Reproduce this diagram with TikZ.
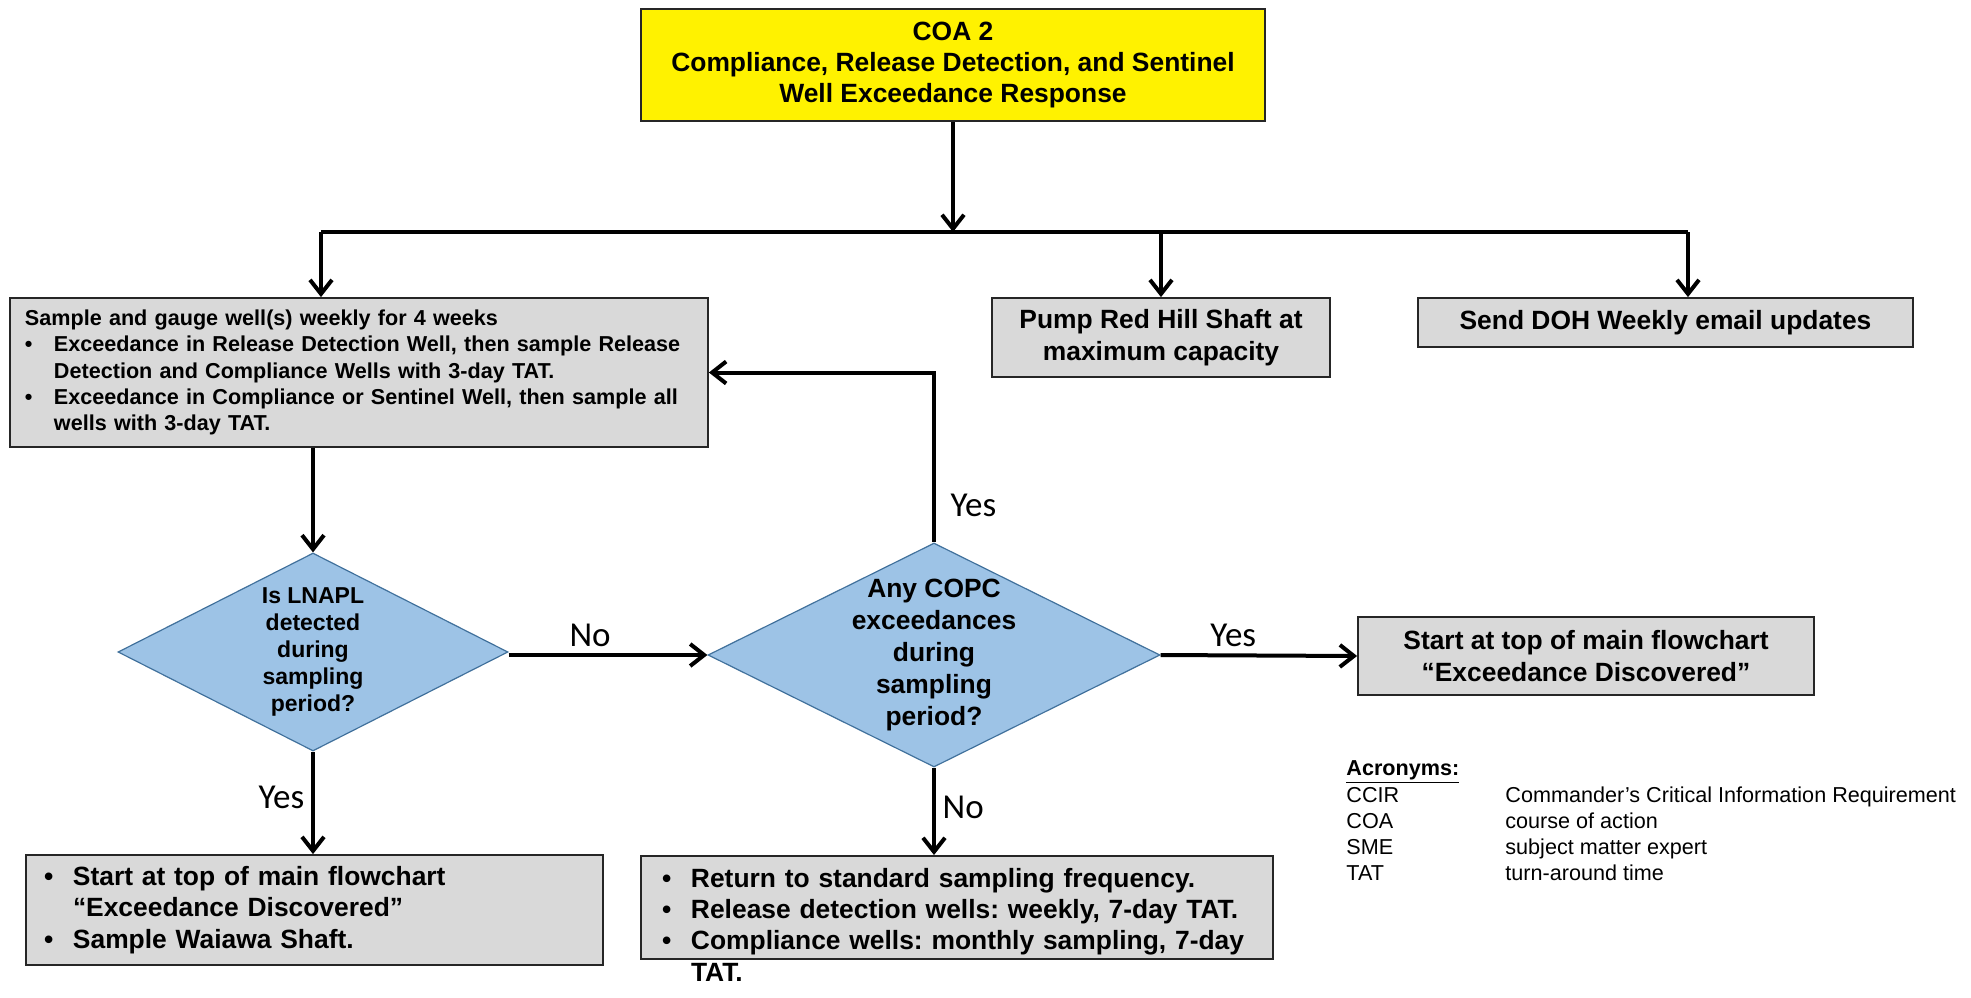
\documentclass[tikz,border=0pt]{standalone}
\usepackage{fontspec}
\setmainfont{Liberation Sans}
\newfontfamily\yesfont{Carlito}
\usetikzlibrary{arrows.meta,positioning,shapes.geometric}
\definecolor{boxGray}{RGB}{217,217,217}
\definecolor{diaBlue}{RGB}{157,195,230}
\definecolor{diaLine}{RGB}{65,113,156}
\newcommand{\bul}{\makebox[14.5pt][l]{\textbullet}}
\newcommand{\ind}{\hspace*{14.5pt}}
\frenchspacing

\begin{document}
\begin{tikzpicture}[x=0.5pt, y=-0.5pt,
    box/.style={draw=black!85, line width=0.9pt, fill=boxGray, align=center, inner sep=0pt,
      font=\bfseries\fontsize{13.2}{15.7}\selectfont},
    decision/.style={diamond, draw=diaLine, line width=0.6pt, fill=diaBlue, inner sep=0pt},
    qtext/.style={align=center, font=\bfseries\fontsize{11.5}{13.4}\selectfont},
    flow/.style={line width=2pt, -{Straight Barb[length=7pt,width=11pt]}},
    answer/.style={font=\yesfont\fontsize{17.5}{20}\selectfont}]

  \useasboundingbox (0,0) rectangle (1971,997);

  % Title
  \node[box, fill=yellow, minimum width=312pt, minimum height=56pt] (coa) at (953,65)
    {COA 2\\Compliance, Release Detection, and Sentinel\\Well Exceedance Response};

  % First row of actions
  \node[box, align=left, text width=334pt, inner xsep=7.5pt, minimum height=74.5pt,
    font=\bfseries\fontsize{10.8}{13.2}\selectfont] (samp) at (359,372.5)
    {Sample and gauge well(s) weekly for 4 weeks\\
     \bul Exceedance in Release Detection Well, then sample Release\\
     \ind Detection and Compliance Wells with 3-day TAT.\\
     \bul Exceedance in Compliance or Sentinel Well, then sample all\\
     \ind wells with 3-day TAT.};
  \node[box, minimum width=169pt, minimum height=39.5pt] (pump) at (1161,337.5)
    {Pump Red Hill Shaft at\\maximum capacity};
  \node[box, minimum width=247.5pt, minimum height=24.5pt] (doh) at (1665.5,322.5)
    {Send DOH Weekly email updates};

  % Decisions
  \node[decision, minimum width=195pt, minimum height=99pt] (dia1) at (313,652) {};
  \node[qtext] (dia1txt) at (dia1) {Is LNAPL\\detected\\during\\sampling\\period?};
  \node[decision, minimum width=226pt, minimum height=112pt] (dia2) at (934,655) {};
  \node[qtext, font=\bfseries\fontsize{13.2}{16}\selectfont] (dia2txt) at (dia2)
    {Any COPC\\exceedances\\during\\sampling\\period?};

  % Outcomes
  \node[box, minimum width=228pt, minimum height=39pt] (restart) at (1586,656)
    {Start at top of main flowchart\\“Exceedance Discovered”};
  \node[box, align=left, text width=270.5pt, inner xsep=9pt, minimum height=55pt] (lnapl) at (314.5,910)
    {\bul Start at top of main flowchart\\
     \ind “Exceedance Discovered”\\
     \bul Sample Waiawa Shaft.};
  \node[box, anchor=north, align=left, text width=295pt, inner xsep=10.5pt, inner ysep=6pt,
    text depth=30pt] (standard) at (957,855)
    {\bul Return to standard sampling frequency.\\
     \bul Release detection wells: weekly, 7-day TAT.\\
     \bul Compliance wells: monthly sampling, 7-day\\
     \ind TAT.};

  % Acronyms
  \node[anchor=north west, inner sep=0pt, font=\fontsize{10.8}{13}\selectfont] (acro) at (1346,757)
    {\begin{tabular}{@{}p{79.5pt}@{}l@{}}
      \multicolumn{2}{@{}l}{\textbf{\underline{Acronyms:}}}\\
      CCIR & Commander’s Critical Information Requirement\\
      COA  & course of action\\
      SME  & subject matter expert\\
      TAT  & turn-around time
     \end{tabular}};

  % Connectors
  \coordinate (barL) at (321,232);
  \coordinate (barM) at (953,232);
  \coordinate (barR) at (1688,232);
  \draw[flow] (coa.south) -- (barM);
  \draw[line width=2pt] (barL) -- (barR);
  \draw[flow] (barL) -- (barL |- samp.north);
  \draw[flow] (pump.north |- barM) -- (pump.north);
  \draw[flow] (barR) -- (barR |- doh.north);
  \draw[flow] (dia1.north |- samp.south) -- (dia1.north);
  \draw[flow] (dia2.west -| dia1.east) -- node[answer, above, pos=0.41] (no1) {No} (dia2.west);
  \draw[flow] (dia2.north) |- node[answer, right=4pt, pos=0.11] (yes1) {Yes} (samp.east);
  \draw[flow] (dia2.east) -- node[answer, above, pos=0.37] (yes2) {Yes} (restart.west);
  \draw[flow] (dia1.south) -- node[answer, left, pos=0.45] (yes3) {Yes} (dia1.south |- lnapl.north);
  \draw[flow] (dia2.south) -- node[answer, right, pos=0.45] (no2) {No} (dia2.south |- standard.north);
\end{tikzpicture}
\end{document}
